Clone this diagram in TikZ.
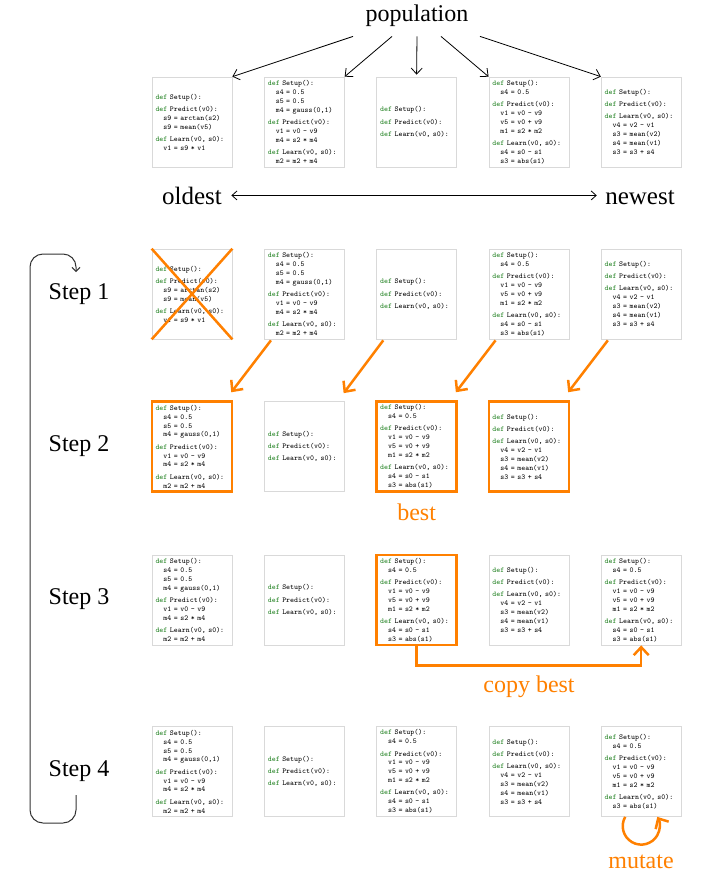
\documentclass[tikz,border=0pt]{standalone}
\usepackage{fontspec}
\setmainfont{Liberation Serif}
\usetikzlibrary{arrows.meta}

\definecolor{evoorange}{RGB}{255,128,0}
\definecolor{defgreen}{RGB}{34,130,34}

\newcommand{\kw}{\textcolor{defgreen}{def}}
\newcommand{\ind}{\hphantom{xx}}

% the programs that appear in the population
\newcommand{\progA}{\kw{} Setup():\\[3.3pt]
\kw{} Predict(v0):\\
\ind s9 = arctan(s2)\\
\ind s9 = mean(v5)\\[3.3pt]
\kw{} Learn(v0, s0):\\
\ind v1 = s9 * v1}

\newcommand{\progB}{\kw{} Setup():\\
\ind s4 = 0.5\\
\ind s5 = 0.5\\
\ind m4 = gauss(0,1)\\[3.3pt]
\kw{} Predict(v0):\\
\ind v1 = v0 - v9\\
\ind m4 = s2 * m4\\[3.3pt]
\kw{} Learn(v0, s0):\\
\ind m2 = m2 + m4}

\newcommand{\progC}{\kw{} Setup():\\[3.3pt]
\kw{} Predict(v0):\\[3.3pt]
\kw{} Learn(v0, s0):}

\newcommand{\progD}{\kw{} Setup():\\
\ind s4 = 0.5\\[3.3pt]
\kw{} Predict(v0):\\
\ind v1 = v0 - v9\\
\ind v5 = v0 + v9\\
\ind m1 = s2 * m2\\[3.3pt]
\kw{} Learn(v0, s0):\\
\ind s4 = s0 - s1\\
\ind s3 = abs(s1)}

\newcommand{\progE}{\kw{} Setup():\\[3.3pt]
\kw{} Predict(v0):\\[3.3pt]
\kw{} Learn(v0, s0):\\
\ind v4 = v2 - v1\\
\ind s3 = mean(v2)\\
\ind s4 = mean(v1)\\
\ind s3 = s3 + s4}

\newcommand{\progF}{\kw{} Setup():\\
\ind s4 = 0.5\\[3.3pt]
\kw{} Predict(v0):\\
\ind v1 = v0 - v9\\
\ind v5 = v0 + v9\\
\ind m1 = s2 * m2\\[3.3pt]
\kw{} Learn(v0, s0):\\
\ind s3 = abs(s1)}

\tikzstyle{prog}=[draw=black!15,line width=0.7pt,fill=white,text width=73pt,inner xsep=3.5pt,inner ysep=2pt,minimum height=90pt,align=left,font=\ttfamily\fontsize{7.5}{8.9}\selectfont]
\tikzstyle{picked}=[prog,draw=evoorange,line width=2.5pt]
\tikzstyle{bigtext}=[font=\fontsize{24}{28}\selectfont]
\tikzstyle{orangetext}=[bigtext,text=evoorange]
\tikzstyle{blackarrow}=[line width=0.8pt,-{Straight Barb[length=6pt,width=11pt]}]
\tikzstyle{orangearrow}=[draw=evoorange,line width=2.5pt,-{Straight Barb[length=8pt,width=15pt]}]
\tikzstyle{evocross}=[draw=evoorange,line width=2.5pt]

\begin{document}
\begin{tikzpicture}[x=1pt,y=1pt]

   \useasboundingbox (0,0) rectangle (715,-878);

   % Population

   \node[bigtext] (pop) at (417,-15.5) {population};

   \node[prog] (pop1) at (192,-122) {\progA};
   \node[prog] (pop2) at (304.3,-122) {\progB};
   \node[prog] (pop3) at (416.6,-122) {\progC};
   \node[prog] (pop4) at (528.9,-122) {\progD};
   \node[prog] (pop5) at (641.2,-122) {\progE};

   \draw[blackarrow] ([shift={(-64,-6.5)}]pop.south) -- (pop1.north east);
   \draw[blackarrow] ([shift={(-25,-6.5)}]pop.south) -- (pop2.north east);
   \draw[blackarrow] ([shift={(0,-6.5)}]pop.south) -- ([yshift=2pt]pop3.north);
   \draw[blackarrow] ([shift={(24,-6.5)}]pop.south) -- (pop4.north west);
   \draw[blackarrow] ([shift={(63,-6.5)}]pop.south) -- (pop5.north west);

   \node[bigtext,font=\fontsize{25}{29}\selectfont,anchor=base] (old) at (192,-204) {oldest};
   \node[bigtext,font=\fontsize{25}{29}\selectfont,anchor=base] (new) at (640,-204) {newest};
   \path (old.east -| new.west) coordinate (newend);
   \draw[line width=0.8pt,{Straight Barb[length=5pt,width=9pt]}-{Straight Barb[length=5pt,width=9pt]}]
      ([xshift=6pt]old.east) -- ([xshift=-5pt]newend);

   % Step 1

   \node[bigtext] (step1) at (79,-294) {Step 1};

   \node[prog] (one1) at (192,-294) {\progA};
   \node[prog] (one2) at (304.3,-294) {\progB};
   \node[prog] (one3) at (416.6,-294) {\progC};
   \node[prog] (one4) at (528.9,-294) {\progD};
   \node[prog] (one5) at (641.2,-294) {\progE};

   \draw[evocross] (one1.north west) -- (one1.south east);
   \draw[evocross] (one1.north east) -- (one1.south west);

   % Step 2

   \node[bigtext] (step2) at (79,-446.5) {Step 2};

   \node[picked] (two1) at (192,-446.5) {\progB};
   \node[prog] (two2) at (304.3,-446.5) {\progC};
   \node[picked] (two3) at (416.6,-446.5) {\progD};
   \node[picked] (two4) at (528.9,-446.5) {\progE};

   \draw[orangearrow] ([shift={(7,-1)}]one2.south west) -- ([shift={(-2,8)}]two1.north east);
   \draw[orangearrow] ([shift={(7,-1)}]one3.south west) -- ([shift={(-1,8)}]two2.north east);
   \draw[orangearrow] ([shift={(7,-1)}]one4.south west) -- ([shift={(-2,8)}]two3.north east);
   \draw[orangearrow] ([shift={(7,-1)}]one5.south west) -- ([shift={(-2,8)}]two4.north east);

   \node[orangetext] (bestlbl) at (416.6,-512) {best};

   % Step 3

   \node[bigtext] (step3) at (79,-599) {Step 3};

   \node[prog] (three1) at (192,-600) {\progB};
   \node[prog] (three2) at (304.3,-600) {\progC};
   \node[picked] (three3) at (416.6,-600) {\progD};
   \node[prog] (three4) at (528.9,-600) {\progE};
   \node[prog] (three5) at (641.2,-600) {\progD};

   \draw[orangearrow] (three3.south) -- ++(0,-19) -| (three5.south);

   \node[orangetext] (copylbl) at (529,-687) {copy best};

   % Step 4

   \node[bigtext] (step4) at (79,-771) {Step 4};

   \node[prog] (four1) at (192,-771.5) {\progB};
   \node[prog] (four2) at (304.3,-771.5) {\progC};
   \node[prog] (four3) at (416.6,-771.5) {\progD};
   \node[prog] (four4) at (528.9,-771.5) {\progE};
   \node[prog] (four5) at (641.2,-771.5) {\progF};

   \draw[orangearrow] ([xshift=-16pt]four5.south) arc[start angle=150,end angle=390,radius=18.5];

   \node[orangetext] (mutlbl) at (641,-862) {mutate};

   % loop back to step 1

   \coordinate (loopstart) at (76,-795);
   \coordinate (loopend) at (76,-272);
   \draw[line width=1pt,black!80,rounded corners=13pt,-{Straight Barb[length=4pt,width=8pt]}]
      (loopstart) -- (76,-823) -- (30,-823) -- (30,-254) -- (76,-254) -- (loopend);

\end{tikzpicture}
\end{document}
